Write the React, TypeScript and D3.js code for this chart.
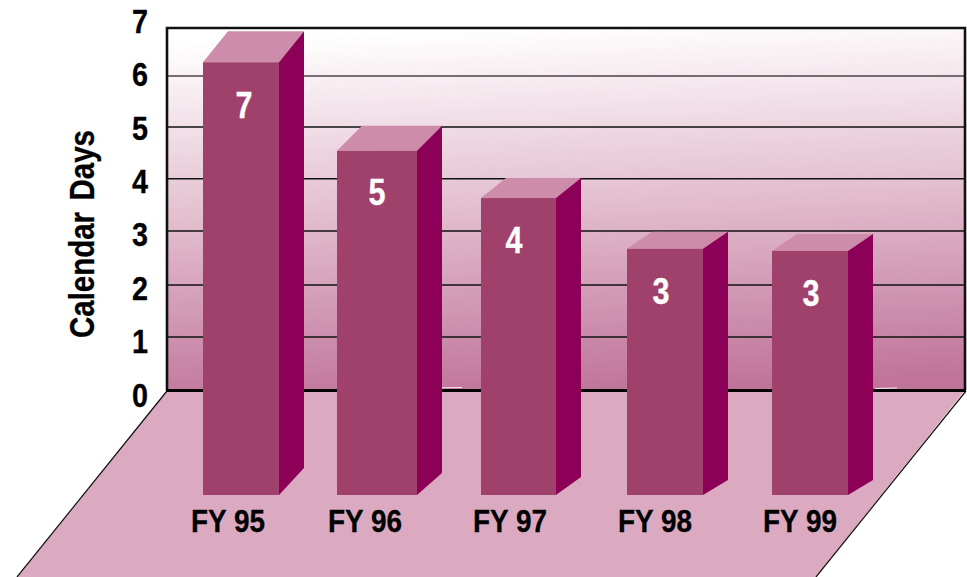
import React from "react";
import * as d3 from "d3";

const categories = ["FY 95", "FY 96", "FY 97", "FY 98", "FY 99"];
const dayLabels = [7, 5, 4, 3, 3];
const barHeights = [6.27, 4.54, 3.63, 2.67, 2.63];
const gridTicks = [1, 2, 3, 4, 5, 6];
const axisTicks = [0, 1, 2, 3, 4, 5, 6, 7];

const W = 967, H = 577;
const FONT = "'Liberation Sans',Arial,sans-serif";

const wall = { left: 167, right: 965, top: 28, bottom: 390 };
const floorFrontY = 495;

const y = d3.scaleLinear().domain([0, 1, 2, 3, 4, 5, 6]).range([wall.bottom, 337, 285, 231, 178.7, 127, 76]);
const yLabel = d3.scaleLinear().domain([0, 7]).range([406.5, 33]);
const barLeft = d3.scaleOrdinal<string, number>().domain(categories).range([203, 337, 481, 627, 772]);
const barWidth = d3.scaleOrdinal<string, number>().domain(categories).range([76, 80, 75, 76, 76]);
const topRise = d3.scaleOrdinal<string, number>().domain(categories).range([31, 25, 20, 17, 17]);
const footRise = d3.scaleOrdinal<string, number>().domain(categories).range([27, 22, 18, 15, 15]);
const labelX = d3.scaleOrdinal<string, number>().domain(categories).range([228, 365, 510, 655, 800]);
const valueX = d3.scaleOrdinal<string, number>().domain(categories).range([244, 377, 514, 661, 811]);
const DEPTH = 25;

const pts = (p: number[][]) => p.map((q) => q.join(",")).join(" ");

export default function App() {
  return (
    <svg width={W} height={H} viewBox={`0 0 ${W} ${H}`} style={{ position: "absolute", left: 0, top: 0, background: "#fff" }}>
      <defs>
        <linearGradient id="wallGrad" gradientUnits="userSpaceOnUse" x1="550" y1="25" x2="567" y2="392">
          <stop offset="0" stopColor="#ffffff" />
          <stop offset="0.5" stopColor="#e2bccd" />
          <stop offset="1" stopColor="#c0749a" />
        </linearGradient>
      </defs>
      <rect x={wall.left} y={wall.top} width={wall.right - wall.left} height={wall.bottom - wall.top} fill="url(#wallGrad)" />
      <polygon
        points={pts([[wall.left, wall.bottom], [wall.right, wall.bottom], [816, H], [17, H]])}
        fill="#dcaac0"
      />
      <line x1={wall.left} y1={wall.bottom + 1} x2={17} y2={H} stroke="#111" strokeWidth={1.2} />
      <line x1={wall.right + 1} y1={wall.bottom + 1} x2={816} y2={H} stroke="#111" strokeWidth={1.2} />
      {gridTicks.map((t) => (
        <line key={t} x1={wall.left} x2={wall.right} y1={y(t)} y2={y(t)} stroke={t === 6 ? "#4a4347" : "#111"} strokeWidth={1.5} />
      ))}
      <path
        d={`M${wall.left},${wall.bottom}V${wall.top}H${wall.right}V${wall.bottom}`}
        fill="none" stroke="#111" strokeWidth={2.6}
      />
      <line x1={wall.left - 1} x2={wall.right + 1} y1={wall.bottom + 0.5} y2={wall.bottom + 0.5} stroke="#000" strokeWidth={3} />
      <line x1={430} x2={462} y1={388} y2={387.5} stroke="#f4e6ec" strokeWidth={1.2} />
      <line x1={875} x2={897} y1={388.5} y2={388} stroke="#f4e6ec" strokeWidth={1.2} />
      {categories.map((c, i) => {
        const x0 = barLeft(c), x1 = x0 + barWidth(c);
        const t = y(barHeights[i]);
        const r = topRise(c), f = footRise(c);
        return (
          <g key={c}>
            <polygon points={pts([[x0, t], [x0 + DEPTH, t - r], [x1 + DEPTH, t - r], [x1, t]])} fill="#cd8ca9" />
            <polygon points={pts([[x1, t], [x1 + DEPTH, t - r], [x1 + DEPTH, floorFrontY - f], [x1, floorFrontY]])} fill="#8c0058" />
            <rect x={x0} y={t} width={x1 - x0} height={floorFrontY - t} fill="#a0416c" />
            <text x={valueX(c)} y={[118, 205, 253, 304, 306][i]} textAnchor="middle" fontFamily={FONT} fontWeight={700} fontSize={37} fill="#fff" stroke="#fff" strokeWidth={0.3} textLength={17} lengthAdjust="spacingAndGlyphs">
              {dayLabels[i]}
            </text>
            <text x={labelX(c)} y={532} textAnchor="middle" fontFamily={FONT} fontWeight={700} fontSize={31} fill="#000" stroke="#000" strokeWidth={0.3} textLength={74} lengthAdjust="spacingAndGlyphs">
              {c}
            </text>
          </g>
        );
      })}
      {axisTicks.map((t) => (
        <text key={t} x={140} y={yLabel(t)} textAnchor="middle" fontFamily={FONT} fontWeight={700} fontSize={33} fill="#000" stroke="#000" strokeWidth={0.3} textLength={16} lengthAdjust="spacingAndGlyphs">
          {t}
        </text>
      ))}
      <text transform="translate(94,234) rotate(-90)" textAnchor="middle" fontFamily={FONT} fontWeight={700} fontSize={35} fill="#000" stroke="#000" strokeWidth={0.3} wordSpacing={4} textLength={208} lengthAdjust="spacingAndGlyphs">
        Calendar Days
      </text>
    </svg>
  );
}
